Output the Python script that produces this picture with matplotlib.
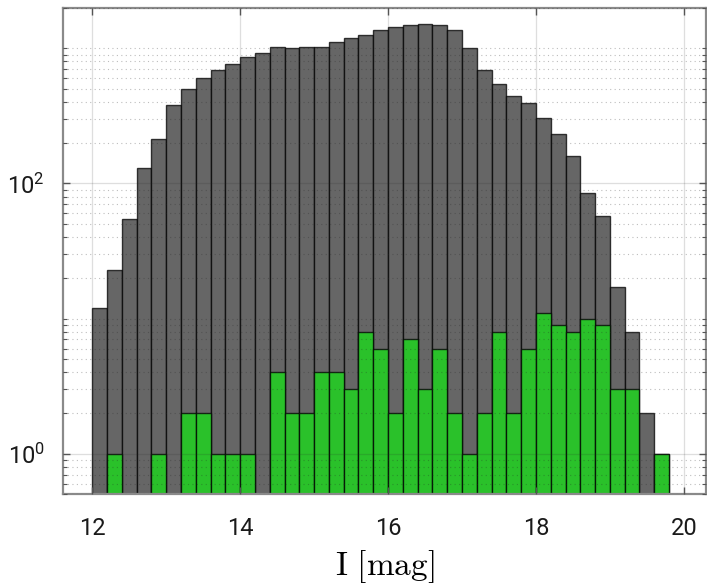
import numpy as np
import matplotlib
matplotlib.use("Agg")
import matplotlib.pyplot as plt
from matplotlib.ticker import LogLocator, FixedLocator, LogFormatterSciNotation, NullFormatter

# ---- data ----
bin_start = 12.0
bin_width = 0.2
all_counts = [12, 23, 55, 130, 214, 380, 497, 603, 695, 765,
              867, 928, 1023, 1000, 1023, 1030, 1113, 1198, 1248, 1368,
              1445, 1496, 1514, 1488, 1368, 1005, 695, 541, 443, 391,
              305, 231, 160, 85, 57, 17, 8, 2, 1]
sel_counts = [0, 1, 0, 0, 1, 0, 2, 2, 1, 1,
              1, 0, 4, 2, 2, 4, 4, 3, 8, 6,
              2, 7, 3, 6, 2, 1, 2, 8, 2, 6,
              11, 9, 8, 10, 9, 3, 3, 0, 1]
x_ticks = [12, 14, 16, 18, 20]
y_ticks = [1, 100]
x_label = r'$\mathrm{I}\ [\mathrm{mag}]$'

plt.rcParams['mathtext.fontset'] = 'cm'
plt.rcParams['font.family'] = ['Roboto', 'DejaVu Sans']

fig = plt.figure(figsize=(7.07, 5.85), dpi=100)
ax = fig.add_axes([62.7 / 707, 1 - 494.3 / 585, (706 - 62.7) / 707, (494.3 - 7.7) / 585])

lefts = bin_start + bin_width * np.arange(len(all_counts))
a = np.array(all_counts, dtype=float)
s = np.array(sel_counts, dtype=float)

m = a > 0
ax.bar(lefts[m], a[m], width=bin_width, align='edge', bottom=1e-3,
       facecolor='#666666', edgecolor=(0, 0, 0, 0.75), linewidth=1.0, zorder=1)
m = s > 0
ax.bar(lefts[m], s[m], width=bin_width, align='edge', bottom=1e-3,
       facecolor='#2ac12a', edgecolor=(0, 0, 0, 0.75), linewidth=1.0, zorder=1.1)

ax.set_yscale('log')
ax.set_xlim(11.6, 20.3)
ax.set_ylim(0.5, 2000)

ax.xaxis.set_major_locator(FixedLocator(x_ticks))
ax.yaxis.set_major_locator(FixedLocator(y_ticks))
ax.yaxis.set_minor_locator(LogLocator(base=10, subs=np.arange(1, 10), numticks=20))
ax.yaxis.set_minor_formatter(NullFormatter())
ax.yaxis.set_major_formatter(LogFormatterSciNotation())

ax.set_axisbelow(False)
ax.grid(True, which='major', axis='both', color='#262626', alpha=0.15, linewidth=0.9, linestyle='-')
ax.grid(True, which='minor', axis='y', color='#262626', alpha=0.3, linewidth=0.8, linestyle=(0, (1, 3)))

ax.tick_params(which='both', direction='in', top=True, right=True, color='#555555')
ax.tick_params(which='major', length=5, width=1.0, labelsize=17, labelcolor='#1a1a1a')
ax.tick_params(axis='x', which='major', pad=16)
ax.tick_params(axis='y', which='major', pad=13)
ax.tick_params(which='minor', length=3, width=0.8)
for sp in ax.spines.values():
    sp.set_color('#8a8a8a')
    sp.set_linewidth(1.6)

ax.set_xlabel(x_label, fontsize=24, labelpad=6)

fig.savefig('out.png', dpi=100)
